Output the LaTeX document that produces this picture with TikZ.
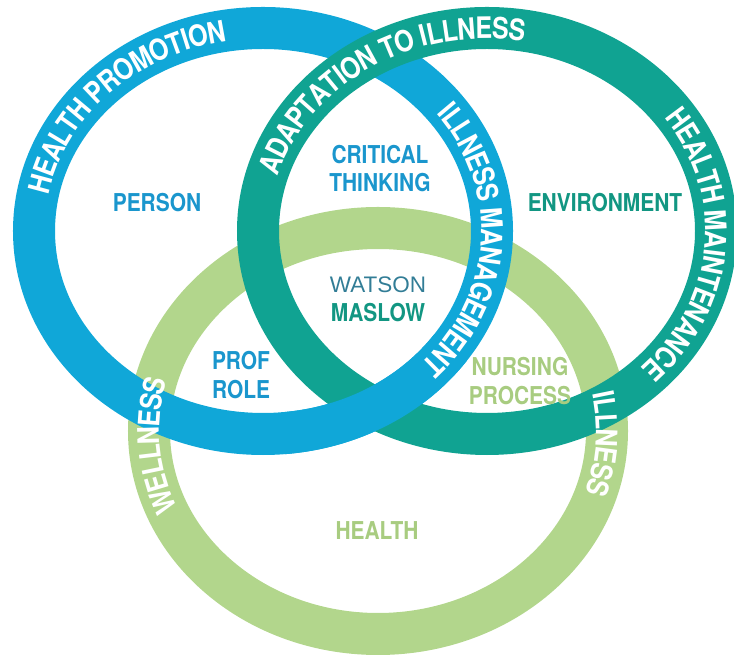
\documentclass[tikz,border=0pt]{standalone}
\usepackage{fontspec}
\newfontfamily\condfont{TeX Gyre Heros}[FakeStretch=0.85]
\newfontfamily\thinfont{Liberation Sans}
\usetikzlibrary{decorations.text}

\definecolor{ringblue}{RGB}{16,167,216}
\definecolor{ringteal}{RGB}{16,163,146}
\definecolor{ringgreen}{RGB}{178,214,140}
\definecolor{lblue}{RGB}{26,150,205}
\definecolor{lteal}{RGB}{18,150,130}
\definecolor{lgreen}{RGB}{168,204,128}
\definecolor{lwatson}{RGB}{50,125,150}

\begin{document}
\begin{tikzpicture}[x=0.025cm, y=0.025cm,
	ring/.style={line width=1.05cm},
	lbl/.style={font=\condfont\bfseries\fontsize{17.5}{20.5}\selectfont, align=center, inner sep=0pt},
	ringlbl/.style={decorate, decoration={text along path, text align=center, raise=-7.5pt,
		text={|\condfont\bfseries\fontsize{21}{22}\selectfont\color{white}|#1}}}]

    \useasboundingbox (0,0) rectangle (734,655);

    \coordinate (BLUE) at (263,424);
    \coordinate (TEAL) at (487,424);
    \coordinate (GREEN) at (378,224);

    \draw [ring,ringgreen] (GREEN) ellipse [x radius=229, y radius=203];
    \draw [ring,ringblue] (BLUE) ellipse [x radius=229, y radius=203];
    \draw [ring,ringteal] (TEAL) ellipse [x radius=229, y radius=203];
    % blue goes over teal at the lower crossing
    \draw [ring,ringblue] (BLUE) ++(-85:229 and 203) arc [start angle=-85, end angle=-35, x radius=229, y radius=203];

    \path [ringlbl={HEALTH PROMOTION}] (BLUE) ++(228:229 and 203) arc [start angle=228, end angle=45, x radius=229, y radius=203];
    \path [ringlbl={ILLNESS MANAGEMENT}] (BLUE) ++(60:229 and 203) arc [start angle=60, end angle=-66, x radius=229, y radius=203];
    \path [ringlbl={ADAPTATION TO ILLNESS}] (TEAL) ++(200:229 and 203) arc [start angle=200, end angle=47, x radius=229, y radius=203];
    \path [ringlbl={HEALTH MAINTENANCE}] (TEAL) ++(60:229 and 203) arc [start angle=60, end angle=-69, x radius=229, y radius=203];
    \path [ringlbl={WELLNESS}] (GREEN) ++(230:229 and 203) arc [start angle=230, end angle=138, x radius=229, y radius=203];
    \path [ringlbl={ILLNESS}] (GREEN) ++(43:229 and 203) arc [start angle=43, end angle=-50, x radius=229, y radius=203];

    \node (PERSON) at (157,452) [lbl, text=lblue] {PERSON};
    \node (CRITICAL) at (380,486.5) [lbl, text=lblue] {CRITICAL\\THINKING};
    \node (ENV) at (605,452) [lbl, text=lteal] {ENVIRONMENT};
    \node (WATSON) at (378,370.5) [font=\thinfont\fontsize{16}{18}\selectfont, text=lwatson, inner sep=0pt] {WATSON};
    \node (MASLOW) at (378,342) [lbl, text=lteal] {MASLOW};
    \node (PROF) at (241,280) [lbl, text=lblue] {PROF\\ROLE};
    \node (NURSING) at (520,274) [lbl, text=lgreen] {NURSING\\PROCESS};
    \node (HEALTH) at (377,124) [lbl, text=lgreen] {HEALTH};

\end{tikzpicture}
\end{document}
